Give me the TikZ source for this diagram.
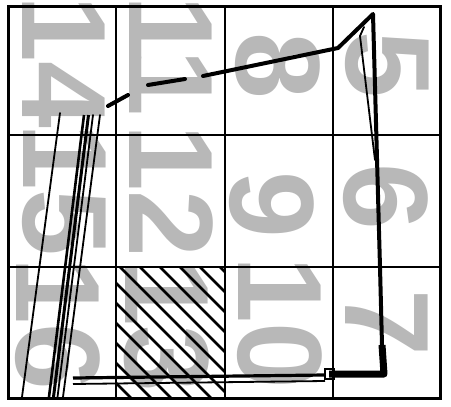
\documentclass[tikz,border=0pt]{standalone}
\usepackage{fontspec}
\setmainfont{Liberation Sans}
\begin{document}
\begin{tikzpicture}[x=1pt,y=-1pt,
  digit/.style={text=black!28, font=\fontsize{120}{120}\selectfont\bfseries, rotate=-90, inner sep=0pt},
  gridline/.style={line width=2.4pt},
  borderline/.style={line width=3pt},
  hatchline/.style={line width=2.6pt},
  thickpath/.style={line width=4pt, line cap=round, line join=round},
  thinpath/.style={line width=1.8pt, line cap=round}]
\useasboundingbox (0,0) rectangle (451,407);
\fill[white] (0,0) rectangle (451,407);
% digits
\node[digit] (d14) at (64,62) {14};
\node[digit] (d11) at (171,56) {1\kern-0.1em 1};
\node[digit] (d8) at (278,66) {8};
\node[digit] (d5) at (387,65) {5};
\node[digit] (d15) at (64,190) {15};
\node[digit] (d12) at (171,191) {12};
\node[digit] (d9) at (272,205) {9};
\node[digit] (d6) at (386,197) {6};
\node[digit] (d16) at (58,324) {16};
\node[digit] (d13) at (167,326) {13};
\node[digit] (d10) at (280,323) {10};
\node[digit] (d7) at (387,323) {7};
% hatch
\begin{scope}
  \clip (116,267) rectangle (225,398);
  \foreach \k in {-7,...,6}
    \draw[hatchline] ({-147+20*\k+257},257) -- ({-147+20*\k+408},408);
\end{scope}
% grid
\draw[gridline] (116,6) -- (116,398);
\draw[gridline] (225,6) -- (225,398);
\draw[gridline] (333,6) -- (333,398);
\draw[gridline] (8,135) -- (440,135);
\draw[gridline] (8,267) -- (440,267);
\draw[borderline] (8,6) rectangle (440,398);
% tour path
\coordinate (p1) at (108,106);
\coordinate (p2) at (128,95);
\coordinate (p3) at (148,85);
\coordinate (p4) at (185,79);
\coordinate (p5) at (203,76);
\coordinate (p6) at (338,48);
\coordinate (apex) at (373,14);
\coordinate (q1) at (380,267);
\coordinate (q2) at (382,345);
\coordinate (corner) at (384,374);
\coordinate (boxc) at (329,374);
\draw[thickpath] (p1) -- (p2);
\draw[thickpath] (p3) -- (p4);
\draw[thickpath] (p5) -- (p6) -- (apex) -- (q1) -- (q2);
\draw[line width=7pt, line join=round] (q2) -- (corner) -- (boxc);
\draw[line width=2.5pt] (325,369) rectangle (334,379);
\draw[thinpath] (364,27) -- (360,36) -- (375,160);
% bottom lines
\draw[line width=3.2pt] (325,375) -- (73,378);
\draw[line width=1.8pt] (325,381) -- (73,384);
% left column lines
\draw[thinpath] (60,113) -- (22,397);
\draw[line width=2.6pt] (84,115) -- (49,397);
\draw[line width=3pt] (88.5,115) -- (53.5,397);
\draw[thinpath] (93,115) -- (57.5,397);
\draw[thinpath] (100,115) -- (63,397);
\end{tikzpicture}
\end{document}
